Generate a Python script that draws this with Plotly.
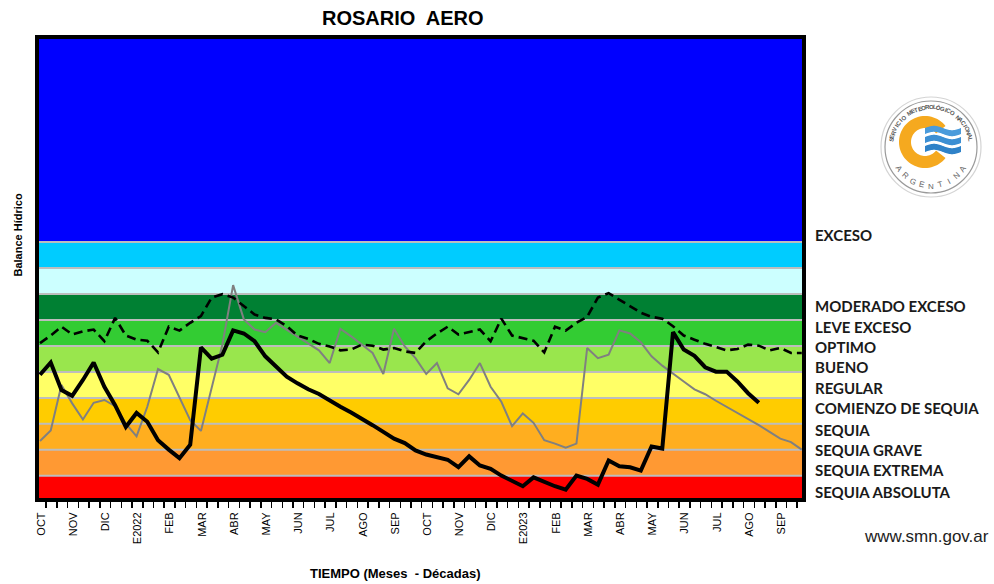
import math
import plotly.graph_objects as go

# ---------------- data ----------------
months = ["OCT", "NOV", "DIC", "E2022", "FEB", "MAR", "ABR", "MAY", "JUN", "JUL", "AGO", "SEP",
          "OCT", "NOV", "DIC", "E2023", "FEB", "MAR", "ABR", "MAY", "JUN", "JUL", "AGO", "SEP"]

# balance of current period (thick black line), one value per decade
balance_actual = [48.9, 53.6, 43.0, 40.8, 46.9, 53.6, 44.3, 37.2, 28.8, 34.2, 30.8, 23.7,
                  20.1, 16.8, 22.0, 59.4, 55.1, 56.6, 66.0, 64.8, 61.8, 56.0, 52.1, 48.2,
                  45.6, 43.3, 41.5, 38.9, 36.6, 34.4, 32.1, 29.5, 26.9, 24.3, 22.6, 19.8,
                  18.2, 17.1, 16.2, 13.3, 17.5, 14.0, 12.7, 10.1, 7.9, 6.0, 9.4, 7.5,
                  6.0, 4.7, 10.1, 8.8, 6.6, 15.9, 13.7, 13.3, 12.0, 21.3, 20.5, 65.3,
                  58.6, 56.2, 51.8, 50.1, 50.1, 46.3, 41.8, 38.1]

# dashed black line
balance_ref = [61.1, 64.0, 67.4, 64.4, 65.6, 66.3, 61.8, 70.8, 64.0, 62.4, 62.0, 57.5,
               67.4, 65.9, 68.9, 71.5, 78.6, 79.9, 78.6, 75.3, 72.1, 70.8, 70.2, 67.6,
               64.0, 62.7, 60.8, 59.8, 58.3, 58.6, 60.5, 60.1, 58.6, 59.2, 57.9, 57.3,
               61.8, 64.8, 67.4, 64.4, 65.3, 66.3, 61.8, 70.5, 64.0, 63.0, 62.0, 57.5,
               67.4, 65.9, 68.9, 71.2, 78.6, 80.3, 77.9, 75.3, 72.8, 71.2, 70.5, 67.6,
               64.0, 62.4, 60.8, 59.6, 58.3, 58.8, 60.5, 60.1, 58.3, 59.2, 57.3, 57.3]

# previous year (thin gray line)
balance_prev = [23.4, 27.5, 45.0, 37.9, 31.7, 38.1, 39.2, 36.8, 30.1, 25.2, 36.6, 51.1,
                48.9, 39.8, 31.4, 27.3, 44.3, 60.5, 83.4, 70.2, 66.3, 65.3, 68.9, 66.3,
                63.7, 61.1, 58.3, 53.4, 66.6, 63.7, 60.5, 57.3, 49.2, 66.6, 59.8, 55.3,
                49.2, 53.4, 43.7, 41.4, 46.9, 53.4, 44.3, 38.5, 29.1, 34.0, 30.4, 23.7,
                22.4, 20.8, 22.4, 59.2, 55.3, 56.6, 66.0, 64.8, 61.4, 56.0, 52.4, 49.2,
                46.3, 43.3, 41.4, 38.9, 36.6, 34.2, 31.7, 29.5, 26.9, 24.3, 23.0, 20.1]

band_edges = [0, 10, 20, 30, 40, 50, 60, 70, 80, 90, 100, 180]
band_colors = ["#FF0000", "#FF9933", "#FFAE1F", "#FFCC00", "#FFFF66", "#99E64D",
               "#33CC33", "#008033", "#CCFFFF", "#00CCFF", "#0000FF"]

status_labels = ["EXCESO", "MODERADO EXCESO", "LEVE EXCESO", "OPTIMO", "BUENO", "REGULAR",
                 "COMIENZO DE SEQUIA", "SEQUIA", "SEQUIA GRAVE", "SEQUIA EXTREMA",
                 "SEQUIA ABSOLUTA"]
status_label_y = [102.7, 75.4, 67.2, 59.4, 51.8, 44.0, 36.0, 27.7, 20.0, 12.3, 3.9]

# ---------------- figure ----------------
W, H = 994, 584
ML, MR, MT, MB = 37, 2, 37, 84
PW = W - ML - MR
PH = H - MT - MB


def px(x):
    return (x - ML) / PW


def py(y):
    return (H - MB - y) / PH


fig = go.Figure()
x_idx = list(range(len(balance_ref)))

fig.add_trace(go.Scatter(x=x_idx, y=balance_prev, mode="lines",
                         line=dict(color="#808080", width=2), hoverinfo="skip"))
fig.add_trace(go.Scatter(x=x_idx, y=balance_ref, mode="lines",
                         line=dict(color="black", width=2.6, dash="9px,5px"), hoverinfo="skip"))
fig.add_trace(go.Scatter(x=list(range(len(balance_actual))), y=balance_actual, mode="lines",
                         line=dict(color="black", width=4), hoverinfo="skip"))

shapes = []
for i, c in enumerate(band_colors):
    shapes.append(dict(type="rect", xref="x domain", yref="y", x0=0, x1=1,
                       y0=band_edges[i], y1=band_edges[i + 1], fillcolor=c,
                       line=dict(width=0), layer="below"))
for e in band_edges[1:-1]:
    shapes.append(dict(type="line", xref="x domain", yref="y", x0=0, x1=1, y0=e, y1=e,
                       line=dict(color="#BDBDBD", width=2), layer="below"))
shapes.append(dict(type="rect", xref="x domain", yref="y domain", x0=0, x1=1, y0=0, y1=1,
                   line=dict(color="black", width=4), layer="above"))

# ---- logo (drawn on its own small axes, 1 unit = 1 px) ----
shapes.append(dict(type="circle", xref="x2", yref="y2", x0=-50, x1=50, y0=-50, y1=50,
                   line=dict(color="#D4D4D4", width=1.2), fillcolor="white"))
shapes.append(dict(type="circle", xref="x2", yref="y2", x0=-46, x1=46, y0=-46, y1=46,
                   line=dict(color="#9A9A9A", width=1.2)))


def arc_path(cx, cy, r_out, r_in, a0, a1, n=60):
    pts = []
    for k in range(n + 1):
        a = math.radians(a0 + (a1 - a0) * k / n)
        pts.append((cx + r_out * math.cos(a), cy + r_out * math.sin(a)))
    for k in range(n + 1):
        a = math.radians(a1 - (a1 - a0) * k / n)
        pts.append((cx + r_in * math.cos(a), cy + r_in * math.sin(a)))
    return "M " + " L ".join(f"{x:.2f},{y:.2f}" for x, y in pts) + " Z"


shapes.append(dict(type="path", xref="x2", yref="y2",
                   path=arc_path(-6, 5, 26, 14, 38, 322),
                   fillcolor="#F5A91F", line=dict(width=0)))


def wave_path(x0, x1, top, thick, amp, n=40):
    up, dn = [], []
    for k in range(n + 1):
        x = x0 + (x1 - x0) * k / n
        w = amp * math.sin((x - x0) / (x1 - x0) * 2 * math.pi)
        up.append((x, top + w))
        dn.append((x, top - thick + w))
    pts = up + dn[::-1]
    return "M " + " L ".join(f"{x:.2f},{y:.2f}" for x, y in pts) + " Z"


for j, tp in enumerate([19, 10, 1]):
    shapes.append(dict(type="path", xref="x2", yref="y2",
                       path=wave_path(-6, 30, tp, 6, 2.2),
                       fillcolor=["#4A9BDB", "#3C8FD3", "#2F82C8"][j], line=dict(width=0)))

annotations = []
for lab, yv in zip(status_labels, status_label_y):
    annotations.append(dict(text=lab, xref="paper", yref="y", x=px(813), y=yv,
                            xanchor="left", yanchor="middle", showarrow=False,
                            font=dict(family="Lato", size=15, color="#1a1a1a", weight="bold")))

annotations.append(dict(text="ROSARIO  AERO", xref="paper", yref="paper", x=px(403), y=py(18),
                        xanchor="center", yanchor="middle", showarrow=False,
                        font=dict(family="Liberation Sans", size=20, color="black", weight="bold")))
annotations.append(dict(text="Balance Hídrico", xref="paper", yref="paper", x=px(17.5), y=py(235),
                        xanchor="center", yanchor="middle", showarrow=False, textangle=-90,
                        font=dict(family="Liberation Sans", size=11, color="black", weight="bold")))
annotations.append(dict(text="TIEMPO (Meses  - Décadas)", xref="paper", yref="paper",
                        x=px(395.5), y=py(573), xanchor="center", yanchor="middle",
                        showarrow=False,
                        font=dict(family="Liberation Sans", size=13, color="black", weight="bold")))
annotations.append(dict(text="www.smn.gov.ar", xref="paper", yref="paper", x=px(926), y=py(536),
                        xanchor="center", yanchor="middle", showarrow=False,
                        font=dict(family="Liberation Sans", size=17, color="#222222")))

# logo arc text
top_txt = "SERVICIO METEOROLÓGICO NACIONAL"
n = len(top_txt)
for k, ch in enumerate(top_txt):
    th = 170 - (170 - 10) * k / (n - 1)
    a = math.radians(th)
    annotations.append(dict(text=ch, xref="x2", yref="y2", x=40 * math.cos(a), y=40 * math.sin(a),
                            showarrow=False, textangle=90 - th,
                            font=dict(family="Liberation Sans", size=6, color="#555555",
                                      weight="bold")))
bot_txt = "ARGENTINA"
n = len(bot_txt)
for k, ch in enumerate(bot_txt):
    th = 214 + (326 - 214) * k / (n - 1)
    a = math.radians(th)
    annotations.append(dict(text=ch, xref="x2", yref="y2", x=39 * math.cos(a), y=39 * math.sin(a),
                            showarrow=False, textangle=270 - th,
                            font=dict(family="Liberation Sans", size=8, color="#666666")))

tickvals = [3 * k + 0.1 for k in range(len(months))]
minor_vals = [k - 0.42 for k in range(len(balance_ref) + 1)]

fig.update_layout(
    width=W, height=H,
    margin=dict(l=ML, r=MR, t=MT, b=MB),
    paper_bgcolor="white", plot_bgcolor="white",
    showlegend=False,
    shapes=shapes,
    annotations=annotations,
    xaxis=dict(domain=[0, 767 / PW], range=[-0.28, 71.21], tickmode="array",
               tickvals=tickvals, ticktext=months, tickangle=-90,
               ticks="outside", ticklen=7, tickcolor="rgba(0,0,0,0)",
               tickfont=dict(family="Liberation Sans", size=11, color="black"),
               minor=dict(tickmode="array", tickvals=minor_vals, ticks="outside",
                          ticklen=7, tickwidth=1.5, tickcolor="black", showgrid=False),
               showgrid=False, zeroline=False, showline=False, fixedrange=True),
    yaxis=dict(domain=[0, 1], range=[0.7, 178.9], visible=False, fixedrange=True),
    xaxis2=dict(domain=[px(876), px(986)], range=[-55, 55], visible=False, anchor="y2",
                fixedrange=True),
    yaxis2=dict(domain=[py(202), py(92)], range=[-55, 55], visible=False, anchor="x2",
                fixedrange=True),
)

fig.write_html("out.html",
               config={"displayModeBar": False, "staticPlot": True},
               post_script="document.body.style.margin='0px';"
                           "document.body.style.overflow='hidden';")
